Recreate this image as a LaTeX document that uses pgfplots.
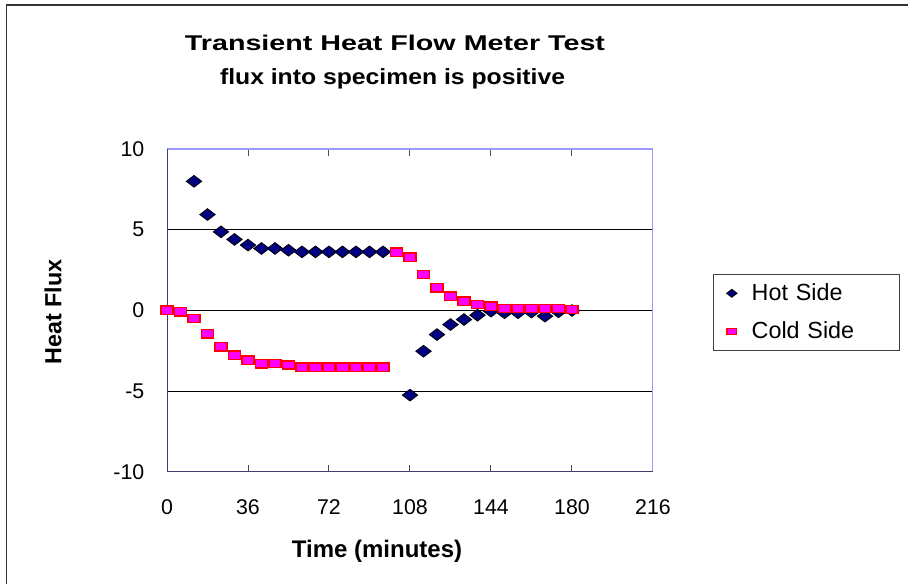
\documentclass[border=0pt]{standalone}
\usepackage{fontspec}
\setmainfont{Liberation Sans}
\usepackage{graphicx}
\usepackage{pgfplots}
\pgfplotsset{compat=1.18}
\definecolor{hotfill}{HTML}{000080}
\definecolor{coldfill}{HTML}{FF00FF}
\definecolor{coldedge}{HTML}{FF0000}
\definecolor{frameblue}{HTML}{9999FF}
\definecolor{framedark}{HTML}{404070}

% hot side plate sensor, W/m2 style units
\pgfplotstableread{
t    q
12   8.00
18   5.94
24   4.87
30   4.40
36   4.05
42   3.84
48   3.84
54   3.73
60   3.63
66   3.63
72   3.63
78   3.63
84   3.63
90   3.63
96   3.63
108 -5.24
114 -2.52
120 -1.49
126 -0.87
132 -0.56
138 -0.29
144 -0.04
150 -0.14
156 -0.14
162 -0.10
168 -0.35
174 -0.08
180  0.00
}\hotside
\pgfplotstableread{
t    q
0    0.02
6   -0.08
12  -0.50
18  -1.44
24  -2.25
30  -2.77
36  -3.08
42  -3.30
48  -3.28
54  -3.38
60  -3.51
66  -3.51
72  -3.51
78  -3.51
84  -3.51
90  -3.51
96  -3.51
102  3.61
108  3.30
114  2.23
120  1.40
126  0.89
132  0.58
138  0.37
144  0.27
150  0.12
156  0.12
162  0.12
168  0.12
174  0.12
180  0.06
}\coldside

\begin{document}
\begin{tikzpicture}
\path[use as bounding box] (0,0) rectangle (681pt,-438pt);
% chart area frame (only top and left show in the picture)
\draw[black!80, line width=1pt] (4.9pt,-438pt) -- (4.9pt,-3.75pt) -- (681pt,-3.75pt);

\begin{axis}[
  scale only axis,
  at={(125.25pt,-111.75pt)}, anchor=north west,
  width=364.5pt, height=242.25pt,
  xmin=0, xmax=216, ymin=-10, ymax=10,
  xtick={0,36,...,216}, ytick={-10,-5,0,5,10},
  axis line style={draw=none},
  tick align=inside,
  major tick length=5pt,
  x tick style={black!70, line width=0.75pt},
  y tick style={draw=none},
  /pgf/number format/assume math mode=true,
  tick label style={font=\fontsize{16pt}{18pt}\selectfont},
  xticklabel style={yshift=-17pt},
  yticklabel style={xshift=-13.5pt},
  only marks,
  legend image code/.code={\draw[mark repeat=2,mark phase=2,#1] plot coordinates {(0pt,0pt) (6pt,0pt) (12pt,0pt)};},
  legend cell align=left,
  legend style={at={(1.1229,0.613)}, anchor=north west,
    draw=black!75, line width=0.75pt,
    inner xsep=10pt, inner ysep=7pt, row sep=14.5pt,
    font=\fontsize{17.5pt}{20pt}\selectfont,
    /tikz/every odd column/.append style={column sep=9pt},
    nodes={inner xsep=2pt, inner ysep=0pt, text width=98.5pt}},
]
\draw[black, line width=0.75pt] (axis cs:0,5) -- (axis cs:216,5);
\draw[black, line width=0.75pt] (axis cs:0,0) -- (axis cs:216,0);
\draw[black, line width=0.75pt] (axis cs:0,-5) -- (axis cs:216,-5);
\draw[frameblue, line width=1.1pt] (rel axis cs:0,1) -- (rel axis cs:1,1) -- (rel axis cs:1,0);
\draw[framedark, line width=1.1pt] (rel axis cs:0,1) -- (rel axis cs:0,0) -- (rel axis cs:1,0);

\addplot[mark=diamond*, mark size=4.4pt,
  mark options={fill=hotfill, draw=black, line width=0.6pt, xscale=1.75},
  legend image post style={mark size=3pt}] table[x=t, y=q] {\hotside};
\addlegendentry{Hot Side}
\addplot[mark=square*, mark size=3.1pt,
  mark options={fill=coldfill, draw=coldedge, line width=1.1pt, xscale=1.44},
  legend image post style={mark size=2.4pt}] table[x=t, y=q] {\coldside};
\addlegendentry{Cold Side}
\end{axis}

\node at (296.25pt,-31.9pt) {\resizebox{315pt}{\height}{\fontsize{16pt}{18pt}\selectfont\bfseries Transient Heat Flow Meter Test}};
\node at (294.4pt,-59.25pt) {\resizebox{258.75pt}{\height}{\fontsize{16.5pt}{19pt}\selectfont\bfseries flux into specimen is positive}};
\node[rotate=90] at (39.75pt,-234pt) {\fontsize{17.5pt}{20pt}\selectfont\bfseries Heat Flux};
\node at (282.75pt,-413.5pt) {\fontsize{18pt}{20pt}\selectfont\bfseries Time (minutes)};
\end{tikzpicture}
\end{document}
